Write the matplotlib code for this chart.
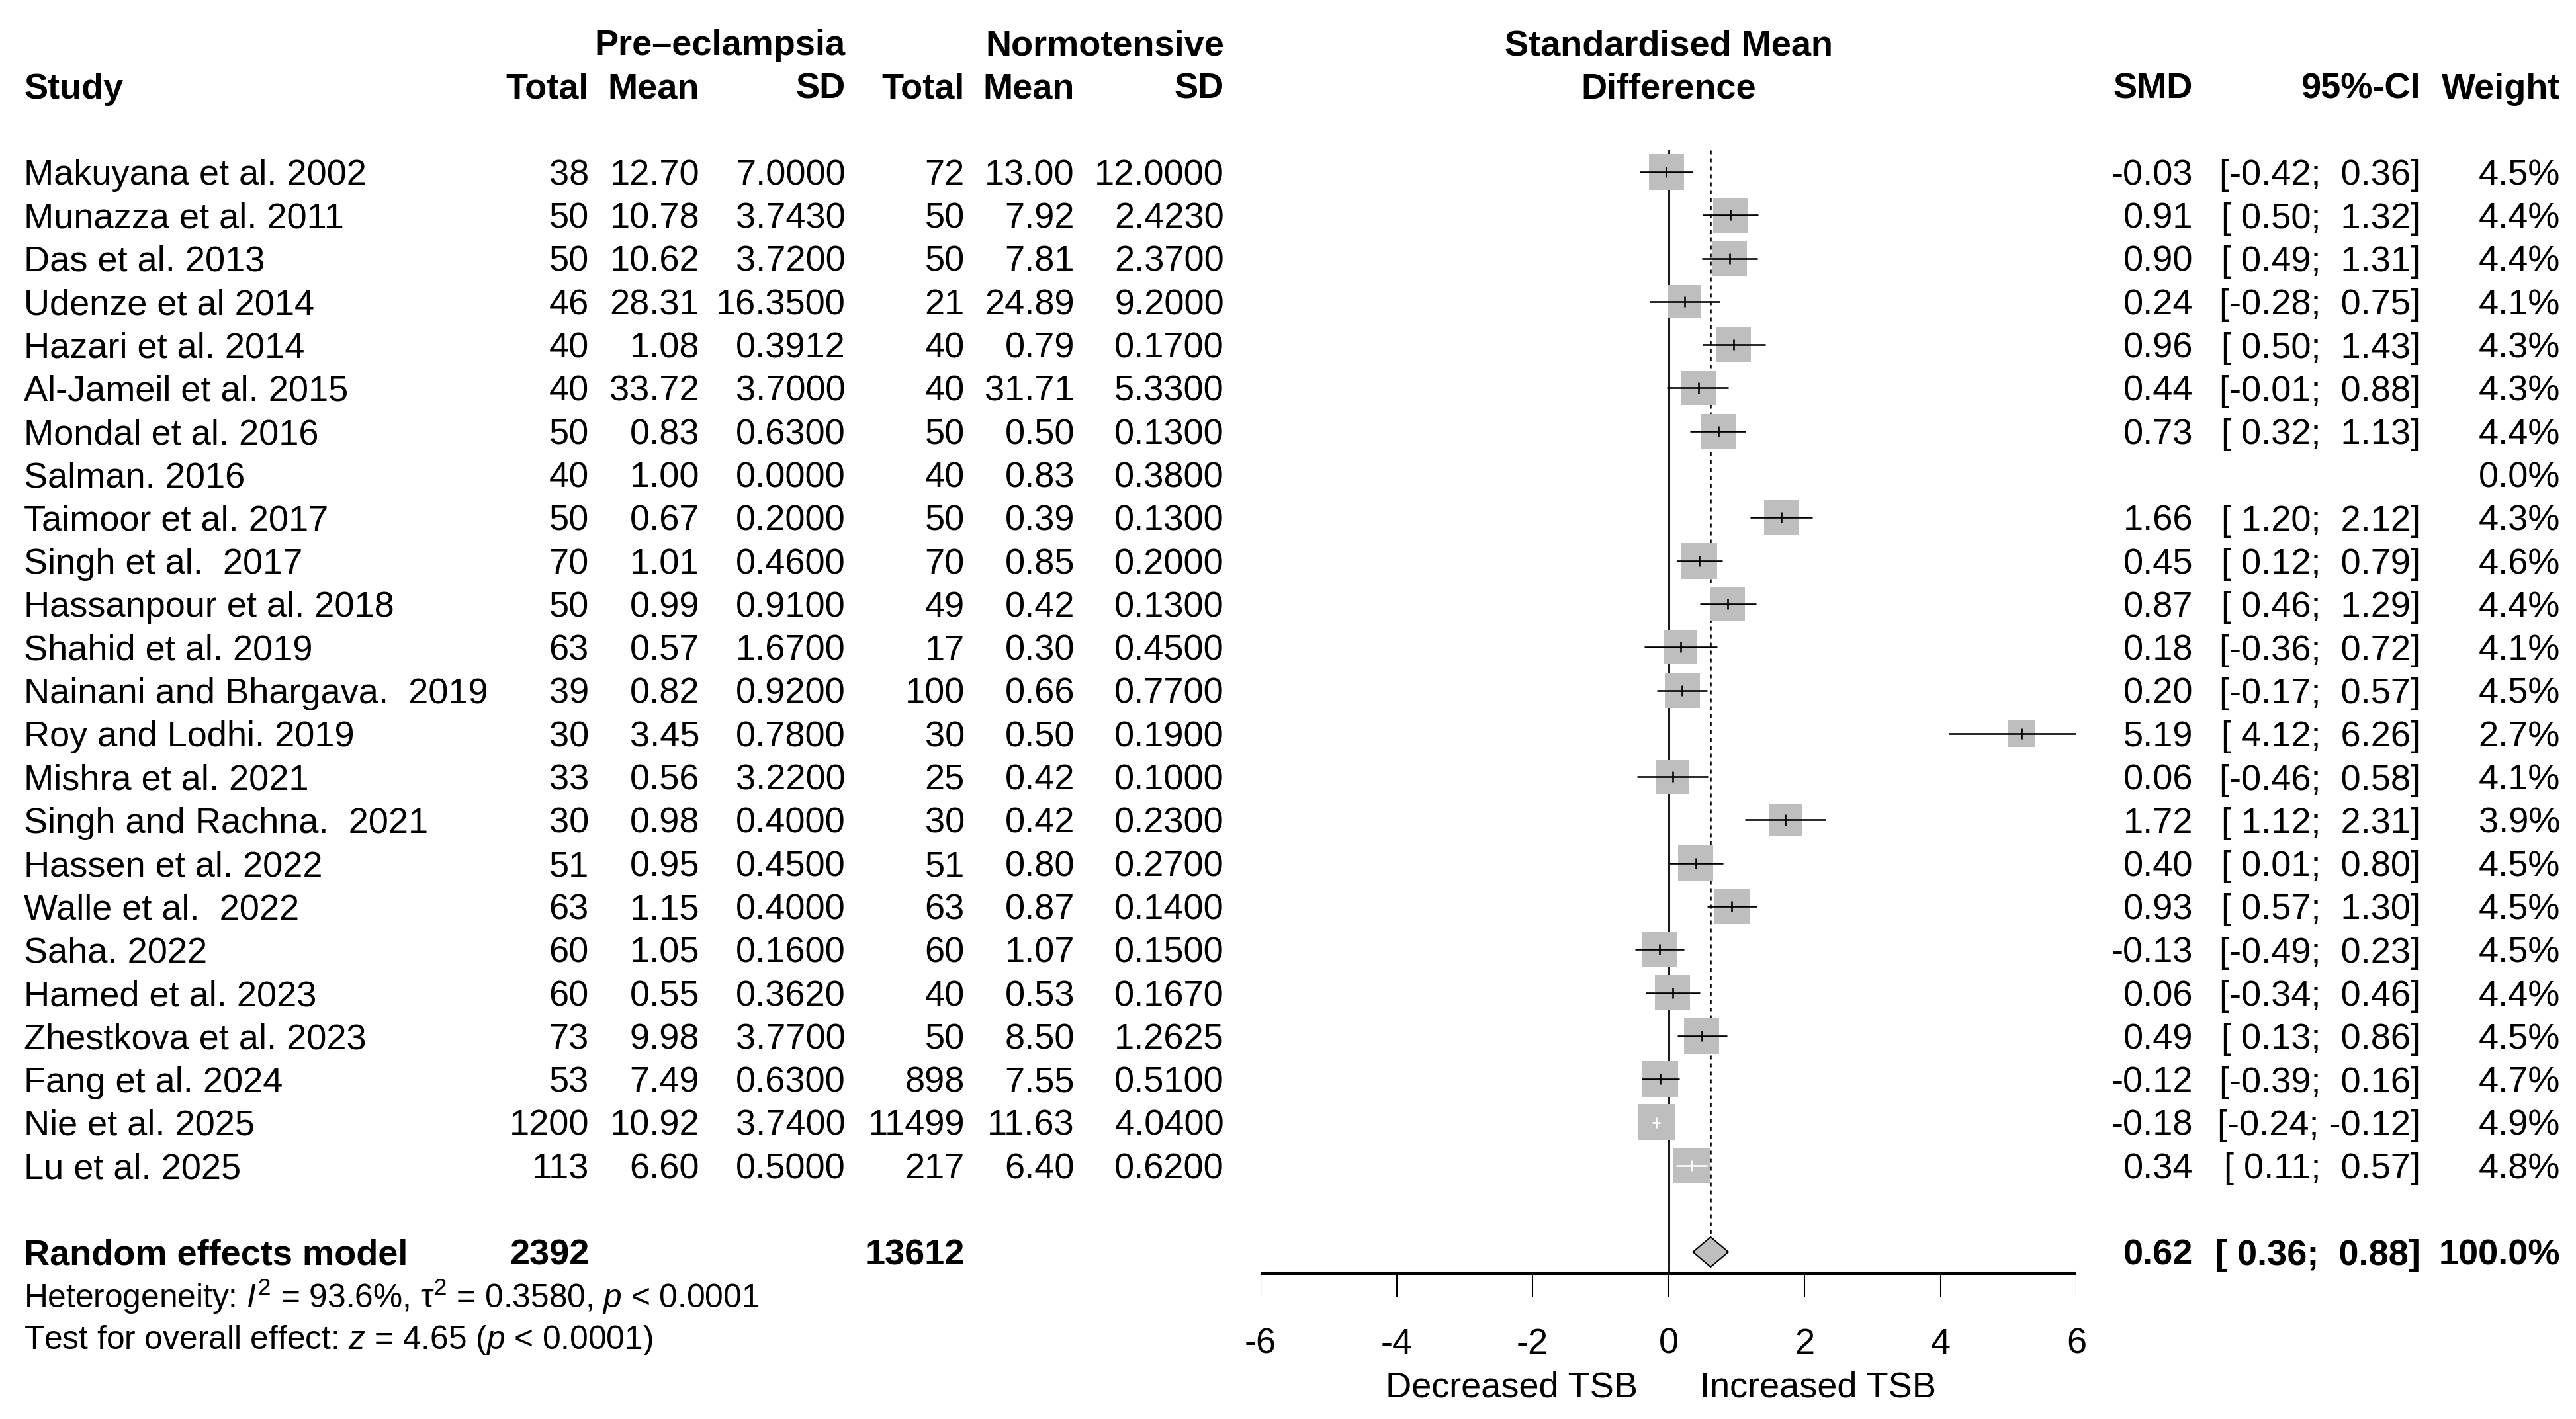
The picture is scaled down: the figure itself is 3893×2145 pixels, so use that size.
import numpy as np
import matplotlib
matplotlib.use("Agg")
import matplotlib.pyplot as plt
from matplotlib import transforms
from matplotlib.patches import Rectangle, Polygon

plt.rcParams['font.family'] = ['Liberation Sans', 'DejaVu Sans']
plt.rcParams['mathtext.fontset'] = 'custom'
plt.rcParams['mathtext.rm'] = 'Liberation Sans'
plt.rcParams['mathtext.it'] = 'Liberation Sans:italic'
plt.rcParams['mathtext.bf'] = 'Liberation Sans:bold'

# ---- data ----
studies = ["Makuyana et al. 2002", "Munazza et al. 2011", "Das et al. 2013",
           "Udenze et al 2014", "Hazari et al. 2014", "Al-Jameil et al. 2015",
           "Mondal et al. 2016", "Salman. 2016", "Taimoor et al. 2017",
           "Singh et al.  2017", "Hassanpour et al. 2018", "Shahid et al. 2019",
           "Nainani and Bhargava.  2019", "Roy and Lodhi. 2019", "Mishra et al. 2021",
           "Singh and Rachna.  2021", "Hassen et al. 2022", "Walle et al.  2022",
           "Saha. 2022", "Hamed et al. 2023", "Zhestkova et al. 2023",
           "Fang et al. 2024", "Nie et al. 2025", "Lu et al. 2025"]
n_pe = [38, 50, 50, 46, 40, 40, 50, 40, 50, 70, 50, 63, 39, 30, 33, 30, 51, 63,
        60, 60, 73, 53, 1200, 113]
mean_pe = [12.70, 10.78, 10.62, 28.31, 1.08, 33.72, 0.83, 1.00, 0.67, 1.01, 0.99,
           0.57, 0.82, 3.45, 0.56, 0.98, 0.95, 1.15, 1.05, 0.55, 9.98, 7.49, 10.92, 6.60]
sd_pe = [7.0000, 3.7430, 3.7200, 16.3500, 0.3912, 3.7000, 0.6300, 0.0000, 0.2000,
         0.4600, 0.9100, 1.6700, 0.9200, 0.7800, 3.2200, 0.4000, 0.4500, 0.4000,
         0.1600, 0.3620, 3.7700, 0.6300, 3.7400, 0.5000]
n_nt = [72, 50, 50, 21, 40, 40, 50, 40, 50, 70, 49, 17, 100, 30, 25, 30, 51, 63,
        60, 40, 50, 898, 11499, 217]
mean_nt = [13.00, 7.92, 7.81, 24.89, 0.79, 31.71, 0.50, 0.83, 0.39, 0.85, 0.42,
           0.30, 0.66, 0.50, 0.42, 0.42, 0.80, 0.87, 1.07, 0.53, 8.50, 7.55, 11.63, 6.40]
sd_nt = [12.0000, 2.4230, 2.3700, 9.2000, 0.1700, 5.3300, 0.1300, 0.3800, 0.1300,
         0.2000, 0.1300, 0.4500, 0.7700, 0.1900, 0.1000, 0.2300, 0.2700, 0.1400,
         0.1500, 0.1670, 1.2625, 0.5100, 4.0400, 0.6200]
smd = [-0.03, 0.91, 0.90, 0.24, 0.96, 0.44, 0.73, np.nan, 1.66, 0.45, 0.87, 0.18,
       0.20, 5.19, 0.06, 1.72, 0.40, 0.93, -0.13, 0.06, 0.49, -0.12, -0.18, 0.34]
ci_lo = [-0.42, 0.50, 0.49, -0.28, 0.50, -0.01, 0.32, np.nan, 1.20, 0.12, 0.46, -0.36,
         -0.17, 4.12, -0.46, 1.12, 0.01, 0.57, -0.49, -0.34, 0.13, -0.39, -0.24, 0.11]
ci_hi = [0.36, 1.32, 1.31, 0.75, 1.43, 0.88, 1.13, np.nan, 2.12, 0.79, 1.29, 0.72,
         0.57, 6.26, 0.58, 2.31, 0.80, 1.30, 0.23, 0.46, 0.86, 0.16, -0.12, 0.57]
weight = [4.5, 4.4, 4.4, 4.1, 4.3, 4.3, 4.4, 0.0, 4.3, 4.6, 4.4, 4.1, 4.5, 2.7, 4.1,
          3.9, 4.5, 4.5, 4.5, 4.4, 4.5, 4.7, 4.9, 4.8]
pooled_smd, pooled_lo, pooled_hi = 0.62, 0.36, 0.88
x_ticks = [-6, -4, -2, 0, 2, 4, 6]
heterogeneity = r"Heterogeneity: $I^2$ = 93.6%, $\mathrm{\tau}^2$ = 0.3580, $p$ < 0.0001"
overall_test = r"Test for overall effect: $z$ = 4.65 ($p$ < 0.0001)"

# ---- layout (pixels of the 3893x2145 canvas) ----
W, H = 3893, 2145
FS = 39
FS_NOTE = FS * 11 / 12
X0, X1 = 1905, 3138          # x = -6 .. 6
ROW0, PITCH = 260, 65.3      # centre of first study row, row spacing
GREY = '#bebebe'

fig = plt.figure(figsize=(W / 100, H / 100), dpi=100)
ax = fig.add_axes([X0 / W, 0, (X1 - X0) / W, 1])
ax.set_xlim(-6, 6)
ax.set_ylim((H - ROW0) / PITCH, -ROW0 / PITCH)
ax.axis('off')

col_base = transforms.blended_transform_factory(fig.transFigure, ax.transData)


def shift(fs):
    # move baseline down by half the cap height so caps are centred on the row
    return transforms.ScaledTranslation(0, -0.716 * fs / 2 / 72, fig.dpi_scale_trans)


def put(px, row, s, ha='right', bold=False, fs=FS):
    ax.text(px / W, row, s, transform=col_base + shift(fs), ha=ha, va='baseline',
            fontsize=fs, fontweight='bold' if bold else 'normal', clip_on=False)


def put_x(x, row, s, ha='center', bold=False, fs=FS):
    ax.text(x, row, s, transform=ax.transData + shift(fs), ha=ha, va='baseline',
            fontsize=fs, fontweight='bold' if bold else 'normal', clip_on=False)


# column right edges
C_STUDY, C_N1, C_M1, C_S1, C_N2, C_M2, C_S2 = 36, 890, 1057, 1278, 1458, 1624, 1850
C_SMD, C_CI, C_W = 3314, 3658, 3869

# headers
put(C_S1, -3, "Pre\u2013eclampsia", bold=True)
put(C_S2, -3, "Normotensive", bold=True)
put(C_STUDY, -2, "Study", ha='left', bold=True)
for px, lab in [(C_N1, "Total"), (C_M1, "Mean"), (C_S1, "SD"),
                (C_N2, "Total"), (C_M2, "Mean"), (C_S2, "SD"),
                (C_SMD, "SMD"), (C_CI, "95%-CI"), (C_W, "Weight")]:
    put(px, -2, lab, bold=True)
put_x(0, -3, "Standardised Mean", bold=True)
put_x(0, -2, "Difference", bold=True)

# study rows
for i, name in enumerate(studies):
    put(C_STUDY, i, name, ha='left')
    put(C_N1, i, f"{n_pe[i]}")
    put(C_M1, i, f"{mean_pe[i]:.2f}")
    put(C_S1, i, f"{sd_pe[i]:.4f}")
    put(C_N2, i, f"{n_nt[i]}")
    put(C_M2, i, f"{mean_nt[i]:.2f}")
    put(C_S2, i, f"{sd_nt[i]:.4f}")
    put(C_W, i, f"{weight[i]:.1f}%")
    if not np.isnan(smd[i]):
        put(C_SMD, i, f"{smd[i]:.2f}")
        put(C_CI, i, f"[{ci_lo[i]:5.2f}; {ci_hi[i]:5.2f}]")

# pooled row + notes
r_pool = len(studies) + 1
put(C_STUDY, r_pool, "Random effects model", ha='left', bold=True)
put(C_N1, r_pool, f"{sum(n_pe)}", bold=True)
put(C_N2, r_pool, f"{sum(n_nt)}", bold=True)
put(C_SMD, r_pool, f"{pooled_smd:.2f}", bold=True)
put(C_CI, r_pool, f"[{pooled_lo:5.2f}; {pooled_hi:5.2f}]", bold=True)
put(C_W, r_pool, "100.0%", bold=True)
put(C_STUDY, r_pool + 1.02, heterogeneity, ha='left', fs=FS_NOTE)
put(C_STUDY, r_pool + 1.97, overall_test, ha='left', fs=FS_NOTE)

# reference lines
ax.plot([0, 0], [-0.5, r_pool + 0.5], color='black', lw=2.0, zorder=1)
ax.plot([pooled_smd] * 2, [-0.5, r_pool - 0.345], color='black', lw=1.8,
        ls=(0, (2.4, 2.4)), zorder=1)

# boxes and CIs
px_per_unit = (X1 - X0) / 12
for i in range(len(studies)):
    if np.isnan(smd[i]):
        continue
    side = 25.0 * np.sqrt(weight[i])
    hw, hh = side / 2 / px_per_unit, side / 2 / PITCH
    ax.add_patch(Rectangle((smd[i] - hw, i - hh), 2 * hw, 2 * hh, fc=GREY,
                           ec='none', zorder=2))
    inside = ci_lo[i] >= smd[i] - hw and ci_hi[i] <= smd[i] + hw
    c = 'white' if inside else 'black'
    ax.plot([ci_lo[i], ci_hi[i]], [i, i], color=c, lw=1.9, zorder=3,
            solid_capstyle='butt')
    ax.plot([smd[i], smd[i]], [i - 0.123, i + 0.123], color=c, lw=1.9, zorder=3,
            solid_capstyle='butt')

# pooled diamond
ax.add_patch(Polygon([(pooled_lo, r_pool), (pooled_smd, r_pool - 0.345),
                      (pooled_hi, r_pool), (pooled_smd, r_pool + 0.345)],
                     closed=True, fc=GREY, ec='black', lw=1.5, zorder=4))

# x axis
y_ax = r_pool + 0.5
ax.plot([x_ticks[0], x_ticks[-1]], [y_ax, y_ax], color='black', lw=2.9,
        solid_capstyle='butt', zorder=1)
for t in x_ticks:
    ax.plot([t, t], [y_ax, y_ax + 0.53], color='black', lw=1.5, zorder=1)
    put_x(t, y_ax + 1.55, str(t))
put_x(-0.45, y_ax + 2.55, "Decreased TSB", ha='right')
put_x(0.46, y_ax + 2.55, "Increased TSB", ha='left')

fig.savefig("out.png", dpi=100)
